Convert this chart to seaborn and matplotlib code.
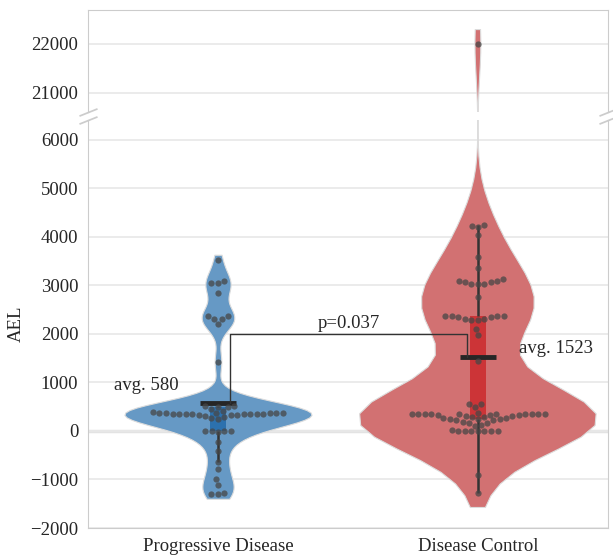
import numpy as np
import pandas as pd
import seaborn as sns
import matplotlib.pyplot as plt

sns.set_style("whitegrid")
plt.rcParams["font.family"] = ["Liberation Serif", "DejaVu Serif"]
plt.rcParams["font.size"] = 13.5

# categories
groups = ["Progressive Disease", "Disease Control"]

# AEL values
pd_values = [3520, 3050, 3050, 3090, 2830,
             2360, 2310, 2210, 2310, 2375,
             1420,
             515, 500, 455, 380, 360, 352, 345, 339, 330, 318, 263,
             366, 350, 250, 366, 366,
             280, 298, 325, 340, 348, 352, 356, 362, 375, 407, 490, 523,
             0, 0, 0, 0, -20,
             -225, -410, -640, -790, -990, -1110, -1290, -1290, -1270]

dc_values = [22000,
             4250, 4220, 4190, 4040,
             3580, 3360,
             3130, 3090, 3060, 3030, 3030, 3030, 3070, 3090,
             2750,
             2360, 2360, 2340, 2310, 2290, 2290, 2310, 2340, 2360, 2360,
             2100, 1980, 1430,
             560, 490, 550,
             356, 356, 356, 356, 356, 377,
             350, 342, 329, 315, 288, 260, 253, 240, 219, 171, 116,
             14, -10, -10, -10, -10, -10, -10, 0,
             103, 171, 192, 219, 240, 260, 288, 308, 322, 332, 340, 346, 352,
             -900, -1280]

avg_labels = ["avg. 580", "avg. 1523"]
p_label = "p=0.037"

violin_colors = ["#6699c5", "#d27172"]
box_colors = ["#2c71ae", "#cc3437"]
violin_widths = [0.72, 0.91]
violin_bw = [0.45, 0.55]

df = pd.DataFrame({
    "group": [groups[0]] * len(pd_values) + [groups[1]] * len(dc_values),
    "AEL": pd_values + dc_values,
})
means = df.groupby("group")["AEL"].mean().reindex(groups).values


def draw(ax):
    for name, vals, fill, w, bw in zip(groups, [pd_values, dc_values],
                                       violin_colors, violin_widths, violin_bw):
        sns.violinplot(x=[name] * len(vals), y=vals, order=groups, ax=ax,
                       color=fill, saturation=1, width=w, density_norm="width",
                       cut=0.45, bw_adjust=bw, inner=None,
                       linewidth=0.8, linecolor="#dcdcdc")
    sns.boxplot(data=df, x="group", y="AEL", order=groups, hue="group",
                hue_order=groups, palette=box_colors, saturation=1, width=0.06,
                showfliers=False, showcaps=False, linecolor="#333333",
                linewidth=1.8, boxprops={"linewidth": 0},
                medianprops={"linewidth": 0}, legend=False, ax=ax)
    sns.swarmplot(data=df, x="group", y="AEL", order=groups, color="#474747",
                  alpha=0.75, size=4.5, ax=ax)
    sns.pointplot(data=df, x="group", y="AEL", order=groups, estimator="mean",
                  errorbar=None, color="#262626", marker="_", markersize=26,
                  markeredgewidth=3.5, linestyle="none", ax=ax)
    ax.axhline(0, color="#e3e3e3", lw=2.5, zorder=0)
    ax.xaxis.grid(False)
    ax.yaxis.grid(True, color="#e8e8e8", lw=1.2)
    ax.set_xlim(-0.5, 1.5)
    ax.set_xlabel("")
    ax.set_ylabel("")


fig = plt.figure(figsize=(6.13, 5.55), dpi=100)
ax_top = fig.add_axes([0.1436, 0.7982, 0.848, 0.1838])
ax_bot = fig.add_axes([0.1436, 0.0486, 0.848, 0.735])

draw(ax_top)
draw(ax_bot)

ax_top.set_ylim(20600, 22700)
ax_top.set_yticks([21000, 22000])
ax_top.set_xticklabels([])
ax_top.tick_params(bottom=False)
ax_top.spines["bottom"].set_visible(False)

ax_bot.set_ylim(-2000, 6400)
ax_bot.set_yticks(range(-2000, 7000, 1000))
ax_bot.spines["top"].set_visible(False)
ax_bot.set_ylabel("AEL")

# broken axis marks
d = 0.4
kw = dict(marker=[(-1, -d), (1, d)], markersize=13, linestyle="none",
          color=".8", mec=".8", mew=1.25, clip_on=False)
ax_top.plot([0, 1], [0, 0], transform=ax_top.transAxes, **kw)
ax_bot.plot([0, 1], [1, 1], transform=ax_bot.transAxes, **kw)

# significance bracket
bracket_y = 2000
x0, x1 = 0.045, 1 - 0.04
ax_bot.plot([x0, x0, x1, x1], [means[0], bracket_y, bracket_y, means[1]],
            color="#333333", lw=1, zorder=6)
ax_bot.text((x0 + x1) / 2, bracket_y + 40, p_label, ha="center", va="bottom")

# mean annotations
ax_bot.text(0 - 0.15, means[0] + 360, avg_labels[0], ha="right", va="center")
ax_bot.text(1 + 0.16, means[1] + 170, avg_labels[1], ha="left", va="center")

fig.savefig("out.png", dpi=100)
plt.close(fig)
